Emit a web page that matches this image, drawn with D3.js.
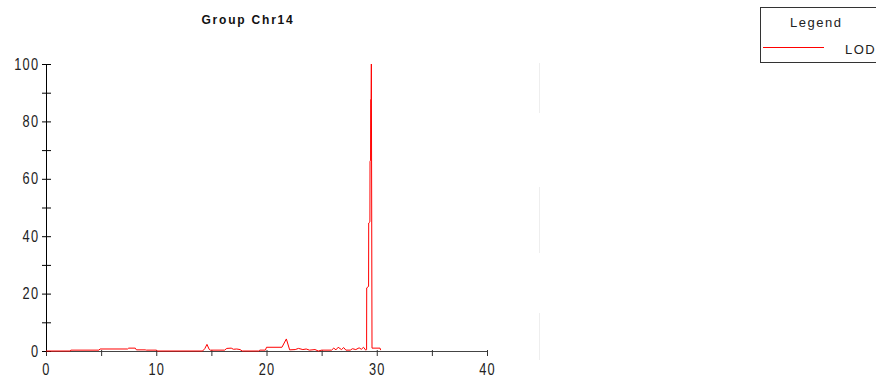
<!DOCTYPE html>
<html lang="en">
<head>
<meta charset="UTF-8">
<script src="https://d3js.org/d3.v7.min.js"></script>
<title>Group Chr14</title>
<style>
  body { margin: 0; background: #fff; }
  svg { display: block; }
  text { font-family: "Liberation Sans", Arial, sans-serif; fill: #222; }
</style>
</head>
<body>
<div id="chart"></div>
<script>
// chart data
const title = 'Group Chr14';
const seriesName = 'LOD';
const positions = [0, 2.2, 2.25, 4.8, 4.9, 7.4, 7.5, 8.1, 8.2, 9.0, 9.1, 10.0, 10.1, 14.2, 14.4, 14.6, 14.8, 14.9,
  16.2, 16.4, 16.8, 17.0, 17.3, 17.6, 17.8, 19.3, 19.4, 19.9, 20.0, 21.4, 21.8, 22.1, 22.6, 22.9, 23.3, 23.6,
  23.9, 24.4, 24.7, 25.0, 25.9, 26.1, 26.3, 26.5, 26.8, 27.0, 27.2, 27.6, 27.8, 28.1, 28.4, 28.6, 28.8, 29.0,
  29.08, 29.09, 29.26, 29.27, 29.38, 29.39, 29.44, 29.45, 29.49, 29.51, 29.57, 30.3, 30.35];
const lodValues = [0, 0, 0.3, 0.3, 0.7, 0.7, 1.0, 1.0, 0.4, 0.4, 0.3, 0.3, 0, 0, 0.8, 2.3, 0.6, 0.3,
  0.3, 0.9, 1.0, 0.6, 0.7, 0.5, 0, 0, 0.3, 0.3, 1.3, 1.3, 4.2, 0.4, 0.5, 0.9, 0.5, 0.7,
  0.3, 0.5, 0, 0.3, 0.3, 1.0, 0.4, 1.3, 0.5, 1.2, 0.3, 0.3, 0.8, 0.5, 1.1, 0.6, 1.3, 0.3,
  0.5, 22, 22.5, 44.6, 45, 66, 66.5, 87.5, 88, 100, 1, 1, 0.3];
const xTicks = [0, 5, 10, 15, 20, 25, 30, 35, 40];
const yTicks = [0, 10, 20, 30, 40, 50, 60, 70, 80, 90, 100];

const w = 876, h = 388;
const svg = d3.select('#chart').append('svg').attr('width', w).attr('height', h);

const x = d3.scaleLinear().domain([0, 40]).range([46, 487]);
const y = d3.scaleLinear().domain([0, 100]).range([351, 64]);

// faint divider on the right of the plot
svg.append('line')
  .attr('x1', 539.5).attr('x2', 539.5).attr('y1', 63).attr('y2', 360)
  .attr('stroke', '#eee').attr('stroke-dasharray', '50,74,66,60,47');

// title
svg.append('text')
  .attr('x', 248).attr('y', 24)
  .attr('text-anchor', 'middle')
  .style('font-weight', 'bold').style('font-size', '12px').style('letter-spacing', '1.8px')
  .style('fill', '#111')
  .text(title);

// x axis
const xAxis = d3.axisBottom(x).tickValues(xTicks)
  .tickFormat(d => d % 10 === 0 ? d : '').tickSize(5).tickPadding(8);
const gx = svg.append('g').attr('transform', 'translate(0,' + y(0) + ')').call(xAxis);
gx.select('.domain').attr('stroke', '#444').attr('d', 'M' + x(0) + ',0.5H' + x(40));
gx.selectAll('.tick line').attr('stroke', '#333').attr('y1', -1);
gx.selectAll('.tick text')
  .style('font-size', '16px').style('letter-spacing', '1.5px')
  .attr('transform', 'scale(0.8,1)');

// y axis
const yAxis = d3.axisLeft(y).tickValues(yTicks)
  .tickFormat(d => d % 20 === 0 ? d : '').tickSize(4).tickPadding(4);
const gy = svg.append('g').attr('transform', 'translate(' + x(0) + ',0)').call(yAxis);
gy.select('.domain').attr('stroke', '#000').attr('d', 'M0.5,' + y(100) + 'V' + y(0));
gy.selectAll('.tick line').attr('stroke', '#000').attr('x2', 5).attr('x1', -4);
gy.selectAll('.tick text')
  .attr('x', -8.5)
  .style('font-size', '16px').style('letter-spacing', '1.5px')
  .attr('transform', 'scale(0.8,1)');

// LOD line
const points = positions.map((p, i) => [p, lodValues[i]]);
const line = d3.line().x(d => x(d[0])).y(d => y(d[1]));
svg.append('path')
  .datum(points)
  .attr('d', line)
  .attr('fill', 'none')
  .attr('stroke', '#ff0000')
  .attr('stroke-width', 1);

// legend
const lg = svg.append('g');
lg.append('rect').attr('x', 760.5).attr('y', 7.5).attr('width', 130).attr('height', 55)
  .attr('fill', '#fff').attr('stroke', '#333');
lg.append('text').attr('x', 790).attr('y', 27)
  .style('font-size', '13px').style('letter-spacing', '1.5px').text('Legend');
lg.append('line').attr('x1', 763).attr('x2', 824).attr('y1', 47.5).attr('y2', 47.5)
  .attr('stroke', '#ff0000');
lg.append('text').attr('x', 845).attr('y', 54)
  .style('font-size', '13px').style('letter-spacing', '1.5px').text(seriesName);
</script>
</body>
</html>
